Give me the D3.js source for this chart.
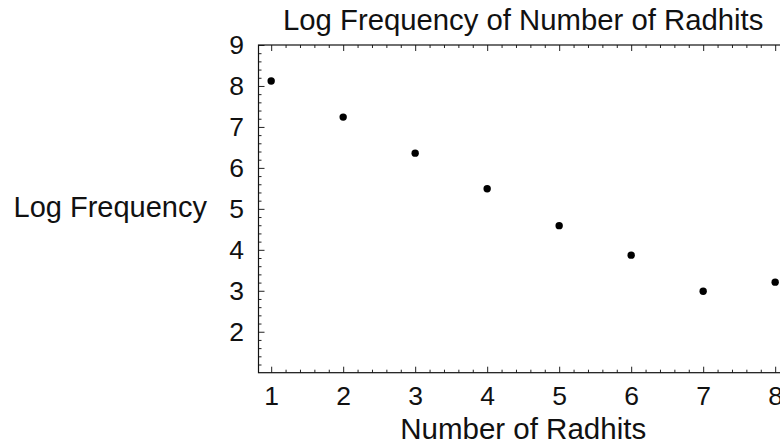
<!DOCTYPE html>
<html>
<head>
<meta charset="utf-8">
<script src="https://cdn.jsdelivr.net/npm/d3@7"></script>
<style>
  html, body { margin: 0; padding: 0; background: #fff; }
  svg { display: block; }
</style>
</head>
<body>
<div id="chart"></div>
<script>
// values
const radhits = [1, 2, 3, 4, 5, 6, 7, 8];
const logFreq = [8.12, 7.24, 6.36, 5.49, 4.59, 3.87, 2.99, 3.21];
const xTicks = [1, 2, 3, 4, 5, 6, 7, 8];
const yTicks = [2, 3, 4, 5, 6, 7, 8, 9];

const width = 780;
const height = 444;
const frameLeft = 258.5;
const frameTop = 45;
const frameBottom = 372.7;
const unitX = 72;

const svg = d3
  .create("svg")
  .attr("width", width)
  .attr("height", height)
  .attr("font-family", "'Liberation Sans', Arial, sans-serif")
  .style("overflow", "hidden");

// x runs a little past the right edge, like the reference
const xMin = 0.824;
const xMax = 8.176;
const x = d3
  .scaleLinear()
  .domain([xMin, xMax])
  .range([frameLeft, frameLeft + (xMax - xMin) * unitX]);

const y = d3
  .scaleLinear()
  .domain([1, 9])
  .range([frameBottom, frameTop]);

const frameRight = x(xMax);

// minor tick positions every 0.2
const xMinor = d3.range(0.8, 8.4, 0.2).filter((v) => v > xMin && v < xMax && Math.abs(v - Math.round(v)) > 1e-6);
const yMinor = d3.range(1, 9, 0.2).filter((v) => v > 1 && Math.abs(v - Math.round(v)) > 1e-6);

// bottom axis, ticks point inward
svg
  .append("g")
  .attr("transform", `translate(0,${frameBottom})`)
  .call(d3.axisBottom(x).tickValues(xMinor).tickSizeInner(-3).tickSizeOuter(0).tickFormat(""))
  .call((g) => g.select(".domain").remove());
svg
  .append("g")
  .attr("transform", `translate(0,${frameBottom})`)
  .call(d3.axisBottom(x).tickValues(xTicks).tickSizeInner(-6).tickSizeOuter(0).tickPadding(13))
  .call((g) => g.select(".domain").remove())
  .call((g) => g.selectAll("text").attr("font-size", 26.5).attr("fill", "#111"));

// top ticks
svg
  .append("g")
  .attr("transform", `translate(0,${frameTop})`)
  .call(d3.axisTop(x).tickValues(xMinor).tickSizeInner(-3).tickSizeOuter(0).tickFormat(""))
  .call((g) => g.select(".domain").remove());
svg
  .append("g")
  .attr("transform", `translate(0,${frameTop})`)
  .call(d3.axisTop(x).tickValues(xTicks).tickSizeInner(-6).tickSizeOuter(0).tickFormat(""))
  .call((g) => g.select(".domain").remove());

// left axis
svg
  .append("g")
  .attr("transform", `translate(${frameLeft},0)`)
  .call(d3.axisLeft(y).tickValues(yMinor).tickSizeInner(-3).tickSizeOuter(0).tickFormat(""))
  .call((g) => g.select(".domain").remove());
svg
  .append("g")
  .attr("transform", `translate(${frameLeft},0)`)
  .call(d3.axisLeft(y).tickValues(yTicks).tickSizeInner(-6).tickSizeOuter(0).tickPadding(14.5))
  .call((g) => g.select(".domain").remove())
  .call((g) => g.selectAll("text").attr("font-size", 26.5).attr("fill", "#111"));

svg.selectAll(".tick line").attr("stroke", "#222");

// frame
svg
  .append("rect")
  .attr("x", frameLeft)
  .attr("y", frameTop)
  .attr("width", frameRight - frameLeft)
  .attr("height", frameBottom - frameTop)
  .attr("fill", "none")
  .attr("stroke", "#111")
  .attr("stroke-width", 1.2);

// points
svg
  .append("g")
  .selectAll("circle")
  .data(radhits)
  .join("circle")
  .attr("cx", (d) => x(d))
  .attr("cy", (d, i) => y(logFreq[i]))
  .attr("r", 3.7)
  .attr("fill", "#000");

// titles
const plotCenter = (frameLeft + frameRight) / 2;
svg
  .append("text")
  .attr("x", plotCenter)
  .attr("y", 30)
  .attr("text-anchor", "middle")
  .attr("font-size", 29.3)
  .attr("fill", "#111")
  .text("Log Frequency of Number of Radhits");

svg
  .append("text")
  .attr("x", plotCenter)
  .attr("y", 439)
  .attr("text-anchor", "middle")
  .attr("font-size", 29.5)
  .attr("fill", "#111")
  .text("Number of Radhits");

svg
  .append("text")
  .attr("x", 207)
  .attr("y", 217)
  .attr("text-anchor", "end")
  .attr("font-size", 29)
  .attr("fill", "#111")
  .text("Log Frequency");

document.getElementById("chart").appendChild(svg.node());
</script>
</body>
</html>
